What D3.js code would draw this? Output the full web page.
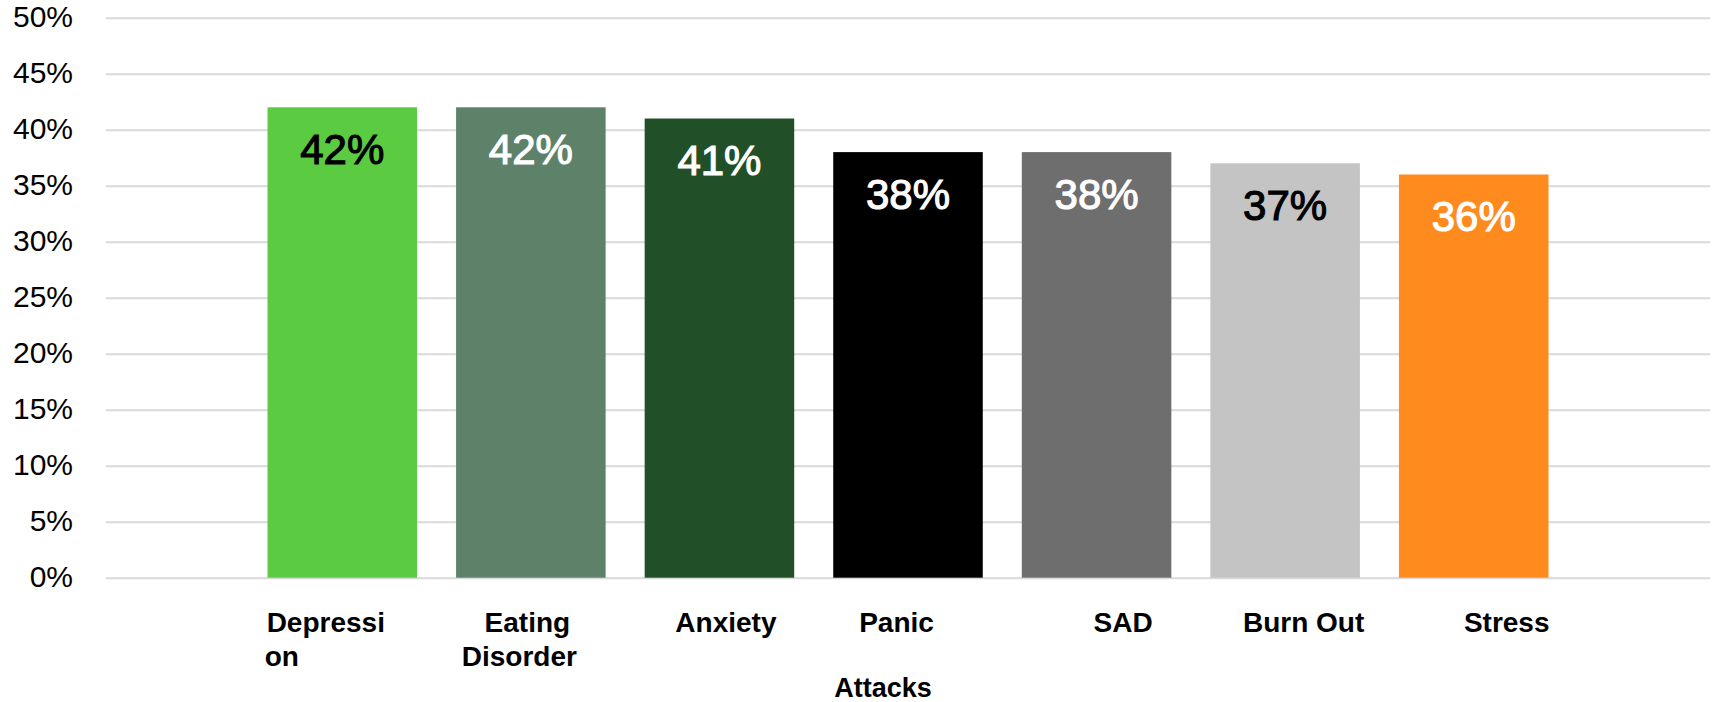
<!DOCTYPE html>
<html>
<head>
<meta charset="utf-8">
<script src="https://cdn.jsdelivr.net/npm/d3@7"></script>
<style>
  html, body { margin: 0; padding: 0; background: #ffffff; }
  svg { display: block; }
</style>
</head>
<body>
<svg id="chart" width="1713" height="702"></svg>
<script>
// Share of respondents reporting each kind of attack
const categories = ["Depression", "Eating Disorder", "Anxiety", "Panic", "SAD", "Burn Out", "Stress"];
const labelLines = [["Depressi", "on"], ["Eating", "Disorder"], ["Anxiety"], ["Panic"], ["SAD"], ["Burn Out"], ["Stress"]];
const values = [0.42, 0.42, 0.41, 0.38, 0.38, 0.37, 0.36];
const barColors = ["#5bcc41", "#5e8269", "#214f27", "#000000", "#6e6e6e", "#c4c4c4", "#ff8a1e"];
const valueLabelColors = ["#000000", "#ffffff", "#ffffff", "#ffffff", "#ffffff", "#000000", "#ffffff"];
const yTicks = [0, 0.05, 0.1, 0.15, 0.2, 0.25, 0.3, 0.35, 0.4, 0.45, 0.5];
const axisTitle = "Attacks";

// Horizontal nudges of each category label line from its bar centre
const lineNudge = [[-16.5, -60.5], [-3.5, -11.5], [6.5], [-11.5], [26.5], [18.5], [33]];

const svg = d3.select("#chart");
const gridLeft = 106, gridRight = 1710;

const y = d3.scaleLinear().domain([0, 0.5]).range([577.7, 17.7]);
const x = d3.scaleBand()
  .domain(categories)
  .range([248, 1568])
  .paddingInner(0.207)
  .paddingOuter(0.1035);

const fmt = d3.format(".0%");

// Gridlines and tick labels
const yAxis = d3.axisLeft(y)
  .tickValues(yTicks)
  .tickFormat(fmt)
  .tickSize(-(gridRight - gridLeft))
  .tickPadding(33);

const gAxis = svg.append("g")
  .attr("transform", `translate(${gridLeft},0)`)
  .call(yAxis);
gAxis.select(".domain").remove();
gAxis.selectAll(".tick line")
  .attr("stroke", "#d9d9d9")
  .attr("stroke-width", 2);
gAxis.selectAll(".tick text")
  .attr("fill", "#000")
  .attr("dy", "9px")
  .attr("font-family", "'Liberation Sans', Arial, sans-serif")
  .attr("font-size", 30);

// Bars
svg.append("g").selectAll("rect")
  .data(values)
  .join("rect")
  .attr("x", (d, i) => x(categories[i]))
  .attr("y", d => y(d))
  .attr("width", x.bandwidth())
  .attr("height", d => y(0) - y(d))
  .attr("fill", (d, i) => barColors[i]);

// Value labels inside the bars
svg.append("g").selectAll("text")
  .data(values)
  .join("text")
  .attr("x", (d, i) => x(categories[i]) + x.bandwidth() / 2)
  .attr("y", d => y(d) + 56.5)
  .attr("text-anchor", "middle")
  .attr("font-family", "'Liberation Sans', Arial, sans-serif")
  .attr("font-size", 42)
  .attr("fill", (d, i) => valueLabelColors[i])
  .attr("stroke", (d, i) => valueLabelColors[i])
  .attr("stroke-width", 1.1)
  .attr("paint-order", "stroke")
  .text(d => fmt(d));

// Category labels
const catG = svg.append("g")
  .attr("font-family", "'Liberation Sans', Arial, sans-serif")
  .attr("font-weight", "bold")
  .attr("font-size", 28)
  .attr("fill", "#000");

categories.forEach((c, i) => {
  const cx = x(c) + x.bandwidth() / 2;
  labelLines[i].forEach((line, j) => {
    catG.append("text")
      .attr("x", cx + lineNudge[i][j])
      .attr("y", 631.5 + j * 34)
      .attr("text-anchor", "middle")
      .text(line);
  });
});

// Axis title
svg.append("text")
  .attr("x", 883)
  .attr("y", 696.5)
  .attr("text-anchor", "middle")
  .attr("font-family", "'Liberation Sans', Arial, sans-serif")
  .attr("font-weight", "bold")
  .attr("font-size", 27)
  .attr("fill", "#000")
  .text(axisTitle);
</script>
</body>
</html>
